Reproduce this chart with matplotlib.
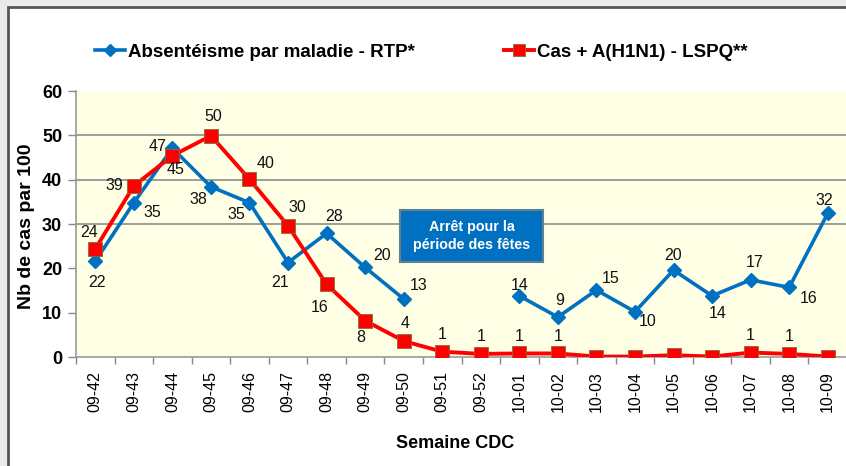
import numpy as np
import matplotlib
matplotlib.use("Agg")
import matplotlib.pyplot as plt
from matplotlib.lines import Line2D
from matplotlib.patches import Rectangle

weeks = ["09-42", "09-43", "09-44", "09-45", "09-46", "09-47", "09-48", "09-49", "09-50",
         "09-51", "09-52", "10-01", "10-02", "10-03", "10-04", "10-05", "10-06", "10-07",
         "10-08", "10-09"]
absent = [21.6, 34.8, 47.1, 38.4, 34.8, 21.3, 27.9, 20.2, 13.1,
          np.nan, np.nan, 13.8, 9.0, 15.1, 10.2, 19.6, 13.8, 17.4, 15.7, 32.4]
h1n1 = [24.4, 38.6, 45.4, 49.9, 40.1, 29.6, 16.4, 8.2, 3.6,
        1.2, 0.7, 0.8, 0.8, 0.1, 0.1, 0.4, 0.1, 1.0, 0.7, 0.1]
name_absent = "Absentéisme par maladie - RTP*"
name_h1n1 = "Cas + A(H1N1) - LSPQ**"
note_text = "Arrêt pour la\npériode des fêtes"

# label offsets in pixels (dx, dy)
off_absent = [(2, -21), (19, -10), (-15, 2), (-13, -13), (-13, -12), (-8, -20), (8, 17),
              (17, 12), (15, 13), None, None, (0, 10), (2, 17), (14, 12), (13, -10),
              (0, 15), (6, -18), (4, 17), (19, -11), (-3, 13)]
off_h1n1 = [(-6, 16), (-19, 0), (3, -14), (2, 19), (16, 16), (9, 18), (-7, -23), (-4, -17),
            (1, 18), (0, 17), (0, 17), (0, 17), (0, 17), None, None, None, None, (0, 17),
            (0, 17), None]

FONT = ["Liberation Sans", "DejaVu Sans"]
plt.rcParams["font.family"] = FONT

BLUE = "#0070C0"
RED = "#FF0000"

fig = plt.figure(figsize=(8.46, 4.66), dpi=100)
fig.patch.set_facecolor("#e9ebe9")
fig.add_artist(Rectangle((8 / 846, -0.01), 1.0, 1 - 7 / 466 + 0.01, transform=fig.transFigure,
                         facecolor="white", edgecolor="#555555", linewidth=2, zorder=0))

ax = fig.add_axes([76 / 846, 1 - 357 / 466, (847 - 76) / 846, (357 - 91) / 466])
ax.set_facecolor("#FFFFE6")
x = np.arange(len(weeks))

ax.plot(x, absent, color=BLUE, lw=2.6, marker="D", ms=7, mfc=BLUE, mec=BLUE, zorder=3)
ax.plot(x, h1n1, color=RED, lw=2.8, marker="s", ms=9.5, mfc=RED, mec="#8a6a3a", mew=0.6, zorder=4)

for i, v in enumerate(absent):
    if off_absent[i] is None or np.isnan(v):
        continue
    ax.annotate(f"{v:.0f}", (x[i], v), xytext=off_absent[i], textcoords="offset pixels",
                ha="center", va="center", fontsize=11.5, color="#111111", zorder=6)
for i, v in enumerate(h1n1):
    if off_h1n1[i] is None:
        continue
    ax.annotate(f"{v:.0f}", (x[i], v), xytext=off_h1n1[i], textcoords="offset pixels",
                ha="center", va="center", fontsize=11.5, color="#111111", zorder=6)

ax.set_xlim(-0.5, len(weeks) - 0.5)
ax.set_ylim(0, 60)
ax.set_yticks(np.arange(0, 61, 10))
ax.set_yticklabels([str(t) for t in range(0, 61, 10)], fontsize=13, fontweight="bold")
ax.set_xticks(x)
ax.set_xticklabels(weeks, rotation=90, fontsize=11.5)
ax.set_xticks(np.arange(-0.5, len(weeks), 1), minor=True)
ax.tick_params(axis="x", which="major", length=0, pad=10)
ax.tick_params(axis="x", which="minor", length=5, color="#888888", width=1)
ax.tick_params(axis="y", length=6, color="#888888", width=1, pad=4)

for gy in [30, 40, 50]:
    ax.axhline(gy, color="#8c8c8c", lw=1.2, zorder=1)

for s in ["top", "right"]:
    ax.spines[s].set_visible(False)
ax.spines["left"].set_color("#999999")
ax.spines["bottom"].set_color("#999999")
ax.spines["left"].set_linewidth(1.2)
ax.spines["bottom"].set_linewidth(1.2)

fig.text(27 / 846, 1 - 226 / 466, "Nb de cas par 100", rotation=90, ha="center", va="center",
         fontsize=14, fontweight="bold")
fig.text(455 / 846, 1 - 443 / 466, "Semaine CDC", ha="center", va="center",
         fontsize=13, fontweight="bold")

fig.add_artist(Rectangle((400 / 846, 1 - 262 / 466), 143 / 846, 52 / 466,
                         transform=fig.transFigure, facecolor=BLUE, edgecolor="#5f7f92",
                         linewidth=1.5, zorder=7))
fig.text(471.5 / 846, 1 - 236 / 466, note_text, ha="center", va="center",
         fontsize=10.3, fontweight="bold", color="white", linespacing=1.45, zorder=8)

h_abs = Line2D([], [], color=BLUE, lw=2.6, marker="D", ms=6)
h_h1 = Line2D([], [], color=RED, lw=2.8, marker="s", ms=8, mec="#8a6a3a", mew=0.6)
leg_kw = dict(loc="center left", frameon=False, prop=dict(size=13.5, weight="bold"),
              handlelength=1.6, handletextpad=0.15, borderpad=0, borderaxespad=0)
fig.legend([h_abs], [name_absent], bbox_to_anchor=(95 / 846, 1 - 52 / 466), **leg_kw)
fig.legend([h_h1], [name_h1n1], bbox_to_anchor=(504 / 846, 1 - 52 / 466), **leg_kw)

fig.savefig("out.png", dpi=100)
